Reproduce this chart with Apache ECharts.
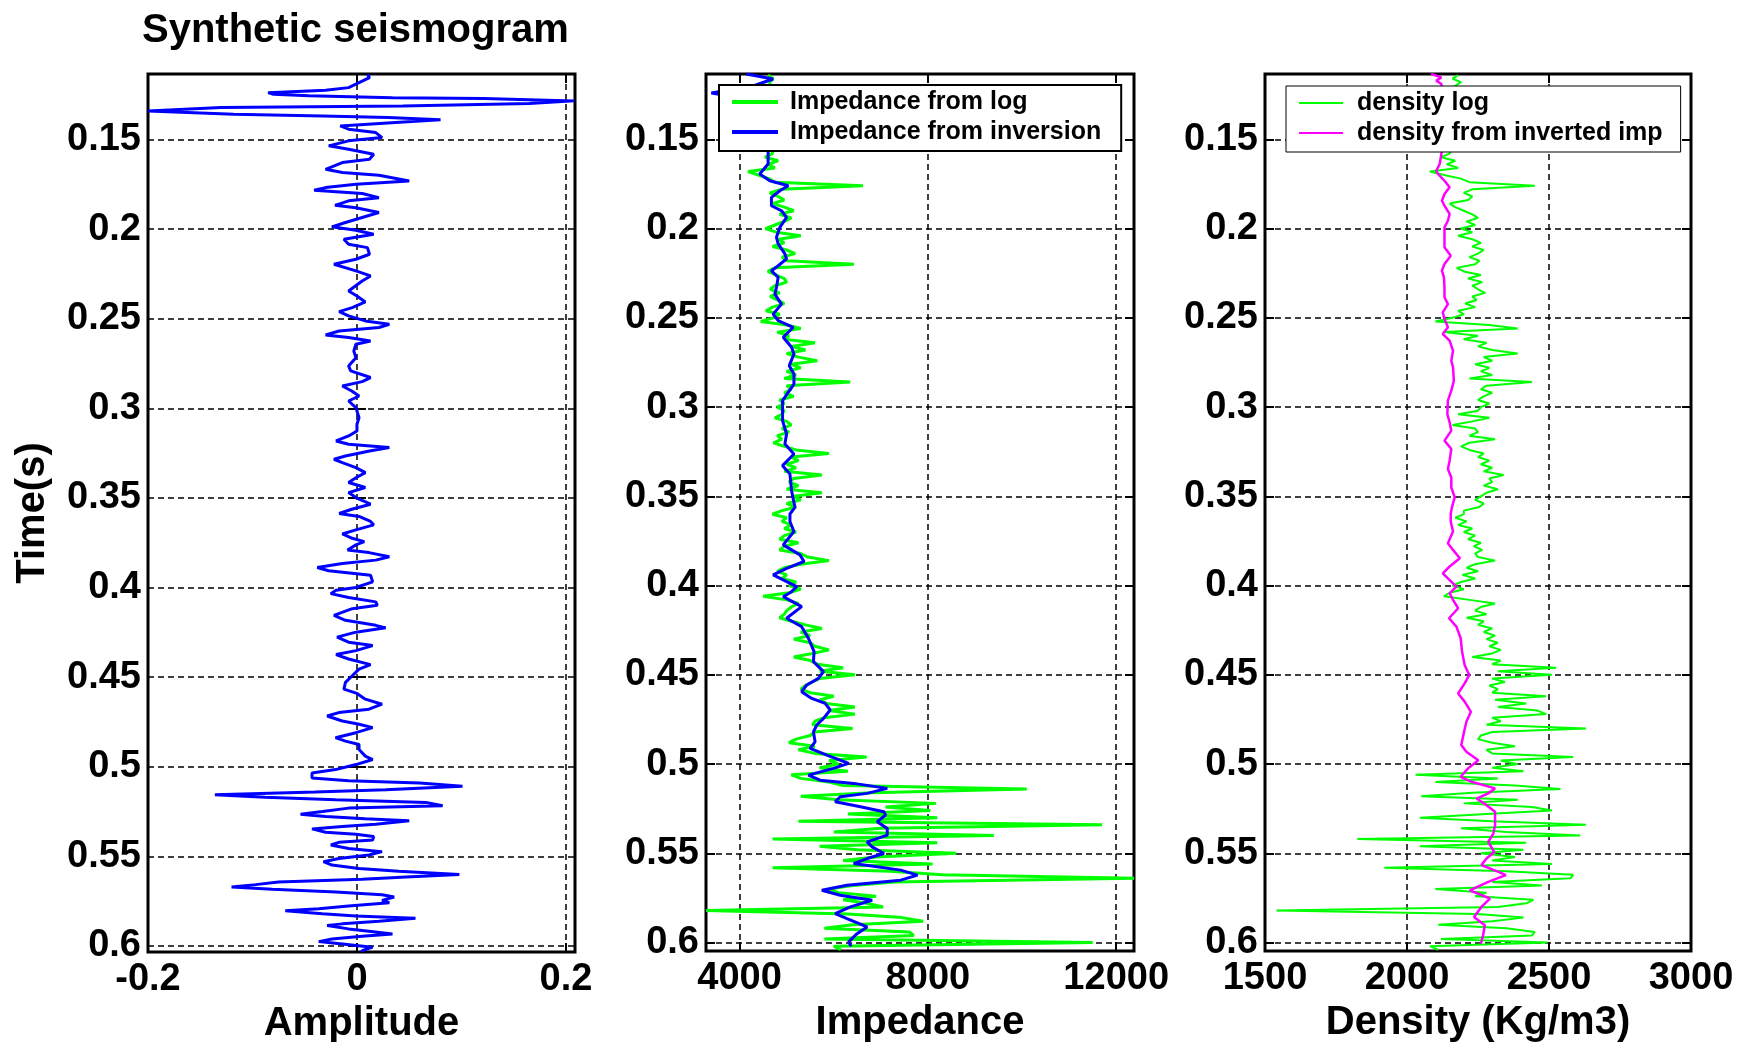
<!DOCTYPE html>
<html><head><meta charset="utf-8">
<script src="https://cdn.jsdelivr.net/npm/echarts@6/dist/echarts.min.js"></script>
<style>html,body{margin:0;padding:0;background:#fff}#c{width:1743px;height:1042px}</style>
</head><body><div id="c"></div><script>
// ---- tick labels ----
const timeTicks = [0.15, 0.2, 0.25, 0.3, 0.35, 0.4, 0.45, 0.5, 0.55, 0.6];
const ampTicks = [-0.2, 0, 0.2];
const impTicks = [4000, 8000, 12000];
const denTicks = [1500, 2000, 2500, 3000];

// ---- synthetic seismogram: [time (s), amplitude] ----
const seismogram = [
[0.1135,0.010],[0.1154,0.012],[0.1210,-0.008],[0.1225,-0.030],[0.1238,-0.085],[0.1247,-0.080],[0.1256,-0.046],[0.1266,0.034],[0.1271,0.121],[0.1284,0.208],
[0.1299,0.165],[0.1312,0.044],[0.1321,-0.130],[0.1340,-0.200],[0.1346,-0.200],[0.1359,-0.118],[0.1368,-0.033],[0.1377,0.030],[0.1390,0.080],[0.1405,0.037],
[0.1424,-0.016],[0.1442,-0.008],[0.1461,0.018],[0.1489,0.024],[0.1507,-0.008],[0.1535,-0.027],[0.1554,-0.008],[0.1582,0.016],[0.1610,0.012],[0.1628,-0.014],
[0.1666,-0.030],[0.1684,-0.014],[0.1699,0.021],[0.1731,0.050],[0.1749,-0.001],[0.1768,-0.030],[0.1783,-0.041],[0.1801,0.005],[0.1824,0.021],[0.1842,-0.008],
[0.1867,-0.021],[0.1880,-0.001],[0.1907,0.021],[0.1935,0.005],[0.1963,-0.011],[0.1987,-0.024],[0.2006,-0.001],[0.2028,0.016],[0.2056,-0.0125],[0.2084,-0.008],
[0.2103,0.010],[0.2140,0.012],[0.2168,-0.001],[0.2196,-0.022],[0.2233,-0.001],[0.2261,0.013],[0.2289,0.005],[0.2345,-0.008],[0.2373,0.000],[0.2406,0.008],
[0.2438,-0.0045],[0.2460,-0.017],[0.2484,-0.008],[0.2512,0.008],[0.2531,0.031],[0.2549,0.021],[0.2568,-0.017],[0.2590,-0.030],[0.2605,-0.008],[0.2624,0.013],
[0.2642,-0.001],[0.2680,-0.003],[0.2717,-0.001],[0.2763,-0.008],[0.2791,-0.006],[0.2828,0.013],[0.2851,0.005],[0.2875,-0.014],[0.2903,-0.005],[0.2931,0.002],
[0.2959,-0.008],[0.2996,-0.001],[0.3052,0.002],[0.3089,0.000],[0.3126,0.000],[0.3154,-0.008],[0.3182,-0.020],[0.3200,-0.008],[0.3219,0.031],[0.3238,0.012],
[0.3266,-0.011],[0.3284,-0.022],[0.3303,-0.014],[0.3331,-0.001],[0.3359,0.008],[0.3387,-0.001],[0.3414,-0.008],[0.3442,0.008],[0.3470,-0.008],[0.3498,-0.001],
[0.3535,0.013],[0.3563,-0.005],[0.3587,-0.017],[0.3603,0.002],[0.3631,0.013],[0.3650,0.016],[0.3678,-0.001],[0.3701,-0.014],[0.3725,-0.0045],[0.3744,0.007],
[0.3762,-0.001],[0.3790,-0.009],[0.3805,0.0115],[0.3828,0.031],[0.3847,0.018],[0.3866,-0.014],[0.3888,-0.038],[0.3906,-0.027],[0.3931,0.013],[0.3968,0.015],
[0.4000,-0.001],[0.4015,-0.020],[0.4034,-0.025],[0.4056,-0.008],[0.4080,0.018],[0.4099,0.0195],[0.4118,-0.0045],[0.4155,-0.022],[0.4183,-0.011],[0.4211,0.018],
[0.4225,0.0275],[0.4249,-0.001],[0.4277,-0.019],[0.4305,-0.008],[0.4324,0.015],[0.4352,-0.001],[0.4374,-0.020],[0.4399,-0.008],[0.4430,0.013],[0.4455,0.002],
[0.4492,-0.0045],[0.4529,-0.011],[0.4567,-0.0125],[0.4591,0.000],[0.4623,0.008],[0.4651,0.024],[0.4679,0.0115],[0.4698,-0.0173],[0.4717,-0.0285],[0.4745,-0.014],
[0.4763,0.002],[0.4782,0.015],[0.4810,-0.001],[0.4838,-0.0205],[0.4857,-0.011],[0.4876,0.002],[0.4904,0.002],[0.4941,0.008],[0.4960,0.015],[0.4988,-0.001],
[0.5016,-0.0205],[0.5035,-0.043],[0.5063,-0.043],[0.5078,-0.008],[0.5091,0.060],[0.5109,0.101],[0.5128,0.0275],[0.5141,-0.040],[0.5156,-0.136],[0.5171,-0.088],
[0.5184,-0.0205],[0.5199,0.066],[0.5218,0.082],[0.5231,-0.008],[0.5250,-0.033],[0.5265,-0.054],[0.5278,-0.030],[0.5291,0.008],[0.5302,0.050],[0.5321,0.018],
[0.5334,-0.014],[0.5347,-0.043],[0.5366,-0.030],[0.5377,-0.001],[0.5390,0.016],[0.5409,0.015],[0.5422,-0.0173],[0.5437,-0.025],[0.5456,-0.008],[0.5474,0.024],
[0.5493,0.0115],[0.5512,-0.0173],[0.5530,-0.032],[0.5549,-0.024],[0.5568,0.002],[0.5583,0.040],[0.5602,0.098],[0.5615,0.047],[0.5628,0.005],[0.5643,-0.075],
[0.5658,-0.097],[0.5671,-0.120],[0.5684,-0.081],[0.5699,-0.020],[0.5714,0.024],[0.5727,0.0356],[0.5746,0.024],[0.5759,0.031],[0.5777,-0.008],[0.5792,-0.0365],
[0.5804,-0.0686],[0.5820,-0.033],[0.5833,-0.001],[0.5845,0.056],[0.5863,0.021],[0.5877,-0.014],[0.5886,-0.0285],[0.5905,-0.008],[0.5918,0.0115],[0.5933,0.034],
[0.5946,0.005],[0.5961,-0.024],[0.5976,-0.0365],[0.5989,-0.014],[0.6007,0.015],[0.6026,0.005],[0.6036,0.005]
];

// ---- impedance from inversion: [time (s), impedance] ----
const impInverted = [
[0.1134,4143],[0.1162,4713],[0.1200,4300],[0.1240,3400],[0.1280,4300],[0.1400,4800],[0.1500,4700],[0.1573,4606],[0.1638,4606],[0.1694,4428],
[0.1732,4642],[0.1760,5034],[0.1788,4856],[0.1825,4677],[0.1872,4677],[0.1900,4891],[0.1937,4998],[0.1993,4856],[0.2049,4784],[0.2086,4820],
[0.2142,4963],[0.2170,4998],[0.2208,4820],[0.2236,4677],[0.2273,4820],[0.2329,4784],[0.2367,4749],[0.2423,4891],[0.2479,4713],[0.2516,4820],
[0.2553,5141],[0.2609,4927],[0.2665,5105],[0.2703,5155],[0.2768,5055],[0.2815,5155],[0.2871,5155],[0.2917,5034],[0.2964,4913],[0.3076,4913],
[0.3151,4998],[0.3207,4963],[0.3263,5155],[0.3328,4913],[0.3375,5070],[0.3469,5105],[0.3562,5176],[0.3599,5070],[0.3641,5070],[0.3697,5155],
[0.3772,4927],[0.3828,5283],[0.3865,5369],[0.3903,5000],[0.3940,4713],[0.3968,4927],[0.4006,5212],[0.4034,5105],[0.4062,4927],[0.4118,5319],
[0.4183,4998],[0.4230,5319],[0.4295,5462],[0.4370,5583],[0.4426,5569],[0.4482,5783],[0.4520,5676],[0.4557,5426],[0.4594,5319],[0.4632,5533],
[0.4660,5818],[0.4697,5925],[0.4744,5783],[0.4781,5640],[0.4819,5569],[0.4875,5604],[0.4912,5497],[0.4950,5854],[0.4996,6317],[0.5024,5996],
[0.5062,5462],[0.5090,5711],[0.5108,6424],[0.5136,7137],[0.5164,6709],[0.5183,6139],[0.5211,6032],[0.5239,6567],[0.5267,7066],[0.5286,7101],
[0.5323,6923],[0.5361,7137],[0.5398,7137],[0.5436,6709],[0.5464,6816],[0.5501,7066],[0.5529,6709],[0.5557,6424],[0.5594,7422],[0.5622,7779],
[0.5650,7422],[0.5679,6282],[0.5707,5747],[0.5735,6139],[0.5763,6816],[0.5800,6353],[0.5837,6032],[0.5865,6282],[0.5912,6709],[0.5950,6495],
[0.5996,6317],[0.6021,6370]
];

// ---- well logs, sampled every 2 ms from 0.114 s ----
const logStart = 0.114;
const logStep = 0.002;
const impLog = [
4606,4713,4640,
4650,4720,4600,4680,4750,4620,4700,4580,4660,4720,4640,4600,4700,4650,4580,4620,4680,4640,4700,
4700,4540,4820,4600,4750,4180,4400,4620,4750,
6620,4900,4640,4820,4950,4700,4950,5150,4850,5100,
4950,4750,4550,4780,5300,4830,4950,4700,5000,5180,
4900,5000,6430,4750,4600,4780,4950,5000,4750,4650,
4850,4650,4800,4950,4700,4560,4850,4720,4450,5000,
5300,4800,5050,4950,5600,5100,5400,5000,5250,5650,
5100,5300,5000,5200,4950,6350,5000,5100,4950,5150,
4850,4950,4800,4950,4900,4750,5000,5100,4900,5050,
4800,4900,4720,4950,5200,5900,5100,5250,5000,5200,
4950,5750,5150,5050,5250,5000,5750,5150,5300,5000,
5200,4900,4700,5000,4900,5100,4950,5200,4950,4850,
5250,4950,4850,5300,5450,5900,5300,4950,4800,5000,
4900,5200,5050,5300,5050,4500,5000,5250,5100,5000,
4950,4850,5100,5400,5750,5300,5500,5150,5500,5600,
5900,5550,5150,5500,5650,6200,5700,6450,5700,5550,
5400,5300,5500,6000,5700,5850,6450,5900,6450,5800,
5600,5550,6400,5600,5500,5200,5050,5600,5250,5600,
6700,5900,6100,5700,6300,5100,5300,5900,6200,10100,
6800,5300,6100,8170,7100,8050,6300,8200,5250,11700,
7000,6000,9400,4700,8200,5700,6500,8600,6900,6200,
8100,4700,7200,8300,12380,7300,6400,5900,6100,6900,
6200,6700,7050,3290,6300,7450,7900,6400,5800,7600,
7700,5800,11500,6000,6150
];
const denLog = [
2180,2160,2190,
2170,2150,2185,2160,2140,2175,2195,2165,2150,2180,2160,2140,2170,2155,2130,2150,2165,2140,2155,
2150,2120,2170,2140,2180,2080,2130,2190,2220,
2450,2230,2200,2230,2215,2150,2170,2200,2230,2250,
2210,2240,2190,2230,2180,2230,2260,2230,2270,2250,
2220,2255,2240,2175,2200,2260,2215,2265,2230,2250,
2275,2230,2245,2205,2240,2180,2200,2160,2100,2290,
2390,2130,2250,2200,2280,2250,2300,2390,2270,2300,
2240,2290,2260,2300,2220,2440,2280,2260,2300,2270,
2250,2290,2260,2250,2180,2290,2230,2160,2240,2250,
2220,2310,2220,2190,2220,2270,2250,2290,2260,2300,
2270,2340,2290,2300,2270,2320,2280,2260,2240,2270,
2255,2200,2200,2170,2210,2180,2230,2200,2240,2215,
2260,2235,2265,2240,2250,2310,2240,2210,2250,2195,
2240,2190,2160,2200,2150,2130,2220,2310,2260,2240,
2280,2210,2270,2250,2300,2270,2310,2280,2320,2290,
2330,2300,2230,2330,2300,2525,2320,2510,2300,2345,
2290,2320,2300,2490,2310,2420,2320,2460,2490,2300,
2330,2280,2630,2300,2260,2250,2300,2380,2280,2300,
2585,2330,2390,2300,2410,2030,2320,2100,2380,2540,
2230,2050,2390,2200,2440,2510,2280,2045,2300,2630,
2190,2350,2610,1825,2420,2045,2410,2260,2380,2300,
2510,1920,2350,2585,2575,2300,2475,2100,2280,2240,
2445,2420,2320,1540,2250,2410,2300,2110,2350,2450,
2440,2120,2495,2080,2110
];

// ---- density from inverted impedance: [time (s), density] ----
const denInverted = [
[0.1134,2085],[0.1153,2121],[0.1171,2103],[0.1190,2121],[0.1300,2130],[0.1400,2115],[0.1500,2125],[0.1582,2121],[0.1638,2115],[0.1676,2103],
[0.1694,2109],[0.1732,2132],[0.1769,2150],[0.1806,2132],[0.1844,2123],[0.1872,2132],[0.1918,2150],[0.1956,2144],[0.1993,2132],[0.2049,2132],
[0.2105,2132],[0.2152,2154],[0.2198,2132],[0.2236,2123],[0.2273,2130],[0.2329,2132],[0.2385,2132],[0.2423,2144],[0.2469,2126],[0.2507,2132],
[0.2553,2144],[0.2591,2126],[0.2628,2150],[0.2684,2162],[0.2740,2156],[0.2777,2162],[0.2852,2165],[0.2908,2156],[0.2964,2144],[0.3039,2142],
[0.3085,2150],[0.3132,2156],[0.3188,2132],[0.3235,2156],[0.3300,2150],[0.3347,2144],[0.3394,2156],[0.3450,2156],[0.3506,2168],[0.3562,2158],
[0.3599,2154],[0.3641,2154],[0.3697,2162],[0.3763,2144],[0.3800,2162],[0.3847,2186],[0.3893,2150],[0.3931,2126],[0.3959,2144],[0.4006,2174],
[0.4043,2150],[0.4080,2162],[0.4127,2180],[0.4183,2148],[0.4230,2174],[0.4295,2189],[0.4370,2194],[0.4445,2203],[0.4501,2219],[0.4548,2203],
[0.4604,2180],[0.4650,2203],[0.4707,2225],[0.4763,2209],[0.4819,2201],[0.4893,2191],[0.4931,2209],[0.4978,2251],[0.5024,2215],[0.5071,2189],
[0.5099,2227],[0.5136,2310],[0.5164,2286],[0.5193,2245],[0.5230,2280],[0.5267,2310],[0.5342,2310],[0.5389,2304],[0.5436,2286],[0.5492,2307],
[0.5529,2280],[0.5566,2262],[0.5604,2322],[0.5622,2348],[0.5660,2286],[0.5707,2221],[0.5753,2292],[0.5800,2262],[0.5856,2236],[0.5903,2274],
[0.5959,2268],[0.6006,2260]
];

// ---------------------------------------------------------------
const FONT = '"Liberation Sans", Arial, Helvetica, sans-serif';
const fmt = v => String(Math.round(v * 10000) / 10000);
const dash = { color: '#000', width: 1.5, type: [6, 4] };
const tickStyle = { color: '#000', width: 2 };
const labelStyle = { fontSize: 38, fontWeight: 'bold', fontFamily: FONT, color: '#000' };
const nameStyle = { fontSize: 40, fontWeight: 'bold', fontFamily: FONT, color: '#000' };

function xMain(g, min, max, ticks, name) {
  return { type: 'value', gridIndex: g, min: min, max: max, position: 'bottom',
    name: name, nameLocation: 'middle', nameGap: 41, nameTextStyle: nameStyle,
    axisLine: { show: false },
    axisTick: { show: true, inside: true, length: 9, customValues: ticks, lineStyle: tickStyle },
    axisLabel: Object.assign({ show: true, customValues: ticks, formatter: fmt, margin: 9 }, labelStyle),
    splitLine: { show: true, lineStyle: dash } };
}
function xTop(g, min, max, ticks) {
  return { type: 'value', gridIndex: g, min: min, max: max, position: 'top',
    axisLine: { show: false },
    axisTick: { show: true, inside: true, length: 9, customValues: ticks, lineStyle: tickStyle },
    axisLabel: { show: false }, splitLine: { show: false } };
}
function yMain(g, max, name) {
  const ax = { type: 'value', gridIndex: g, min: 0.1134, max: max, inverse: true, position: 'left',
    axisLine: { show: false },
    axisTick: { show: true, inside: true, length: 9, customValues: timeTicks, lineStyle: tickStyle },
    axisLabel: Object.assign({ show: true, customValues: timeTicks, formatter: fmt, margin: 7 }, labelStyle),
    splitLine: { show: true, lineStyle: dash } };
  if (name) {
    ax.name = name; ax.nameLocation = 'middle'; ax.nameGap = 95; ax.nameRotate = 90; ax.nameTextStyle = nameStyle;
  }
  return ax;
}
function yRight(g, max) {
  return { type: 'value', gridIndex: g, min: 0.1134, max: max, inverse: true, position: 'right',
    axisLine: { show: false },
    axisTick: { show: true, inside: true, length: 9, customValues: timeTicks, lineStyle: tickStyle },
    axisLabel: { show: false }, splitLine: { show: false } };
}
const gridBase = { show: true, borderColor: '#000', borderWidth: 3, backgroundColor: 'transparent', containLabel: false, outerBoundsMode: 'none' };

const logTime = i => +(logStart + i * logStep).toFixed(3);
const legendText = { fontSize: 25, fontWeight: 'bold', fontFamily: FONT, color: '#000', lineHeight: 26 };

const option = {
  animation: false,
  backgroundColor: '#fff',
  title: { text: 'Synthetic seismogram', left: 137, top: 6, padding: 5,
    textStyle: { fontSize: 40, fontWeight: 'bold', fontFamily: FONT, color: '#000' } },
  grid: [
    Object.assign({ left: 148, top: 74, width: 427, height: 878 }, gridBase),
    Object.assign({ left: 706, top: 74, width: 428, height: 877 }, gridBase),
    Object.assign({ left: 1265, top: 74, width: 426, height: 877 }, gridBase)
  ],
  xAxis: [
    xMain(0, -0.2, 0.2087, ampTicks, 'Amplitude'), xTop(0, -0.2, 0.2087, ampTicks),
    xMain(1, 3287, 12378, impTicks, 'Impedance'), xTop(1, 3287, 12378, impTicks),
    xMain(2, 1500, 3000, denTicks, 'Density (Kg/m3)'), xTop(2, 1500, 3000, denTicks)
  ],
  yAxis: [
    yMain(0, 0.6034, 'Time(s)'), yRight(0, 0.6034),
    yMain(1, 0.6047), yRight(1, 0.6047),
    yMain(2, 0.6047), yRight(2, 0.6047)
  ],
  legend: [
    { left: 719, top: 85, orient: 'vertical', padding: [4, 20, 6, 13], itemGap: 4, itemWidth: 46, itemHeight: 4, icon: 'rect',
      backgroundColor: '#fff', borderColor: '#000', borderWidth: 2, borderRadius: 0, selectedMode: false,
      textStyle: Object.assign({ padding: [0, 0, 0, 7] }, legendText),
      data: ['Impedance from log', 'Impedance from inversion'] },
    { left: 1286, top: 86, orient: 'vertical', padding: [4, 18, 6, 13], itemGap: 4, itemWidth: 44, itemHeight: 2, icon: 'rect',
      backgroundColor: '#fff', borderColor: '#000', borderWidth: 1, borderRadius: 0, selectedMode: false,
      textStyle: Object.assign({ padding: [0, 0, 0, 9] }, legendText),
      data: ['density log', 'density from inverted imp'] }
  ],
  series: [
    { name: 'Synthetic seismogram', type: 'line', xAxisIndex: 0, yAxisIndex: 0, symbol: 'none', showSymbol: false, color: '#0000ff',
      lineStyle: { color: '#0000ff', width: 3 }, data: seismogram.map(p => [p[1], p[0]]) },
    { name: 'Impedance from log', type: 'line', xAxisIndex: 2, yAxisIndex: 2, symbol: 'none', showSymbol: false, color: '#00ff00',
      itemStyle: { color: '#00ff00' }, lineStyle: { color: '#00ff00', width: 3 }, data: impLog.map((v, i) => [v, logTime(i)]) },
    { name: 'Impedance from inversion', type: 'line', xAxisIndex: 2, yAxisIndex: 2, symbol: 'none', showSymbol: false, color: '#0000ff',
      itemStyle: { color: '#0000ff' }, lineStyle: { color: '#0000ff', width: 3 }, data: impInverted.map(p => [p[1], p[0]]) },
    { name: 'density log', type: 'line', xAxisIndex: 4, yAxisIndex: 4, symbol: 'none', showSymbol: false, color: '#00ff00',
      itemStyle: { color: '#00ff00' }, lineStyle: { color: '#00ff00', width: 2 }, data: denLog.map((v, i) => [v, logTime(i)]) },
    { name: 'density from inverted imp', type: 'line', xAxisIndex: 4, yAxisIndex: 4, symbol: 'none', showSymbol: false, color: '#ff00ff',
      itemStyle: { color: '#ff00ff' }, lineStyle: { color: '#ff00ff', width: 2.5 }, data: denInverted.map(p => [p[1], p[0]]) }
  ]
};
const chart = echarts.init(document.getElementById('c'), null, { renderer: 'canvas' });
chart.setOption(option);
</script></body></html>
